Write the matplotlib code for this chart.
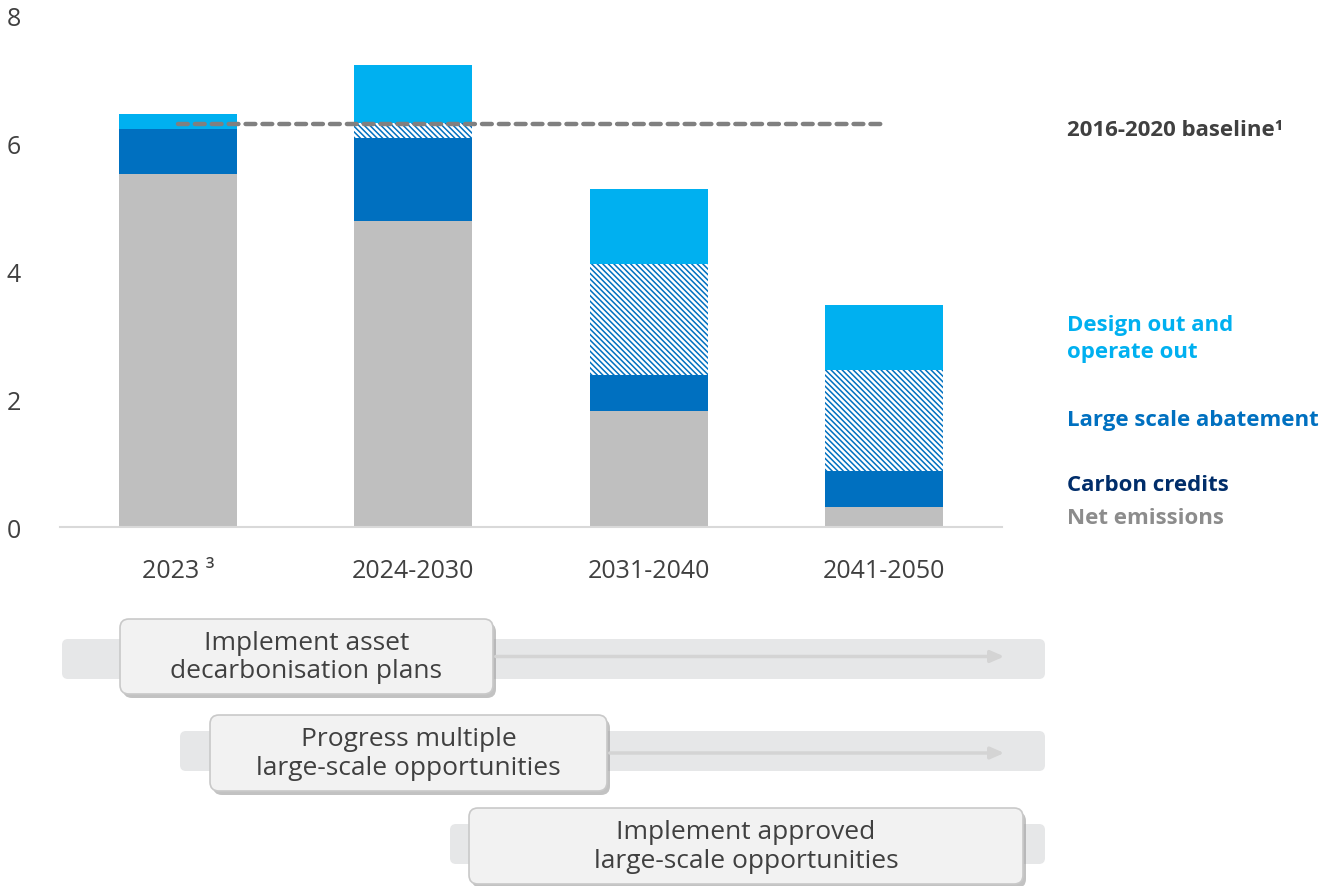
import matplotlib
matplotlib.use("Agg")
import matplotlib.pyplot as plt
from matplotlib.patches import FancyBboxPatch

plt.rcParams["font.family"] = ["Open Sans", "DejaVu Sans"]
plt.rcParams["hatch.linewidth"] = 1.1

# values (Mt CO2-e)
periods = ["2023 \u00b3", "2024-2030", "2031-2040", "2041-2050"]
net_emissions = [5.52, 4.79, 1.81, 0.31]
carbon_credits = [0.71, 1.30, 0.57, 0.57]
large_scale = [0.0, 0.23, 1.74, 1.58]
design_out = [0.23, 0.91, 1.17, 1.01]
baseline = 6.31

# timeline steps
steps = ["Implement asset\ndecarbonisation plans",
         "Progress multiple\nlarge-scale opportunities",
         "Implement approved\nlarge-scale opportunities"]

GRAY = "#bfbfbf"
DARK = "#0070c0"
LIGHT = "#00b0f0"
TXT = "#404040"

W, H = 1337, 887
fig = plt.figure(figsize=(W / 100, H / 100), dpi=100)
ax = fig.add_axes([60 / W, 1 - 528 / H, 942 / W, 511 / H])

x = list(range(len(periods)))
bw = 0.5
b1 = net_emissions
b2 = [a + b for a, b in zip(b1, carbon_credits)]
b3 = [a + b for a, b in zip(b2, large_scale)]
ax.bar(x, net_emissions, bw, color=GRAY, linewidth=0)
ax.bar(x, carbon_credits, bw, bottom=b1, color=DARK, linewidth=0)
ax.bar(x, large_scale, bw, bottom=b2, facecolor="white", edgecolor=DARK,
       hatch="\\" * 6, linewidth=0)
ax.bar(x, design_out, bw, bottom=b3, color=LIGHT, linewidth=0)

ax.plot([0, 3], [baseline, baseline], color="#808080", lw=3.2,
        dashes=(2.2, 1.6), dash_capstyle="round", zorder=5)

ax.set_xlim(-0.5, 3.5)
ax.set_ylim(0, 8)
ax.set_yticks([0, 2, 4, 6, 8])
ax.set_xticks(x)
ax.set_xticklabels(periods)
ax.tick_params(length=0, labelsize=18, labelcolor=TXT)
ax.tick_params(axis="y", pad=28)
ax.tick_params(axis="x", pad=22)
for s in ["top", "right", "left"]:
    ax.spines[s].set_visible(False)
ax.spines["bottom"].set_color("#d9d9d9")
ax.spines["bottom"].set_linewidth(1.5)

# right-hand labels
lab_x = 1067 / W
fs = 16
fig.text(lab_x, 1 - 131 / H, "2016-2020 baseline\u00b9", color=TXT,
         fontsize=fs, fontweight="bold", va="center")
fig.text(lab_x, 1 - 339 / H, "Design out and\noperate out", color=LIGHT,
         fontsize=fs, fontweight="bold", va="center", linespacing=1.35)
fig.text(lab_x, 1 - 421 / H, "Large scale abatement", color=DARK,
         fontsize=fs, fontweight="bold", va="center")
fig.text(lab_x, 1 - 486 / H, "Carbon credits", color="#002d6a",
         fontsize=fs, fontweight="bold", va="center")
fig.text(lab_x, 1 - 518 / H, "Net emissions", color="#8c8c8c",
         fontsize=fs, fontweight="bold", va="center")

# timeline boxes drawn on a pixel overlay
ov = fig.add_axes([0, 0, 1, 1])
ov.set_xlim(0, W)
ov.set_ylim(H, 0)
ov.axis("off")

bgs = [(62, 640, 1045, 680), (180, 732, 1045, 772), (450, 825, 1045, 865)]
boxes = [(120, 620, 493, 695), (210, 716, 607, 792), (469, 809, 1023, 885)]
arrows = [True, True, False]

for label, bg, bx, arr in zip(steps, bgs, boxes, arrows):
    ov.add_patch(FancyBboxPatch((bg[0], bg[1]), bg[2] - bg[0], bg[3] - bg[1],
                                boxstyle="round,pad=0,rounding_size=6",
                                fc="#e6e7e8", ec="none"))
    cy = (bx[1] + bx[3]) / 2
    if arr:
        ov.annotate("", xy=(1007, cy), xytext=(bx[2], cy),
                    arrowprops=dict(arrowstyle="-|>,head_length=0.8,head_width=0.35",
                                    color="#d4d4d4", lw=2.5))
    ov.add_patch(FancyBboxPatch((bx[0] + 3, bx[1] + 4), bx[2] - bx[0], bx[3] - bx[1],
                                boxstyle="round,pad=0,rounding_size=9",
                                fc="#9a9a9a", ec="none", alpha=0.6))
    ov.add_patch(FancyBboxPatch((bx[0], bx[1]), bx[2] - bx[0], bx[3] - bx[1],
                                boxstyle="round,pad=0,rounding_size=9",
                                fc="#f2f2f2", ec="#c9c9c9", lw=1.2))
    ov.text((bx[0] + bx[2]) / 2, cy, label, ha="center", va="center",
            fontsize=19, color=TXT, linespacing=1.2)

fig.savefig("out.png", dpi=100)
